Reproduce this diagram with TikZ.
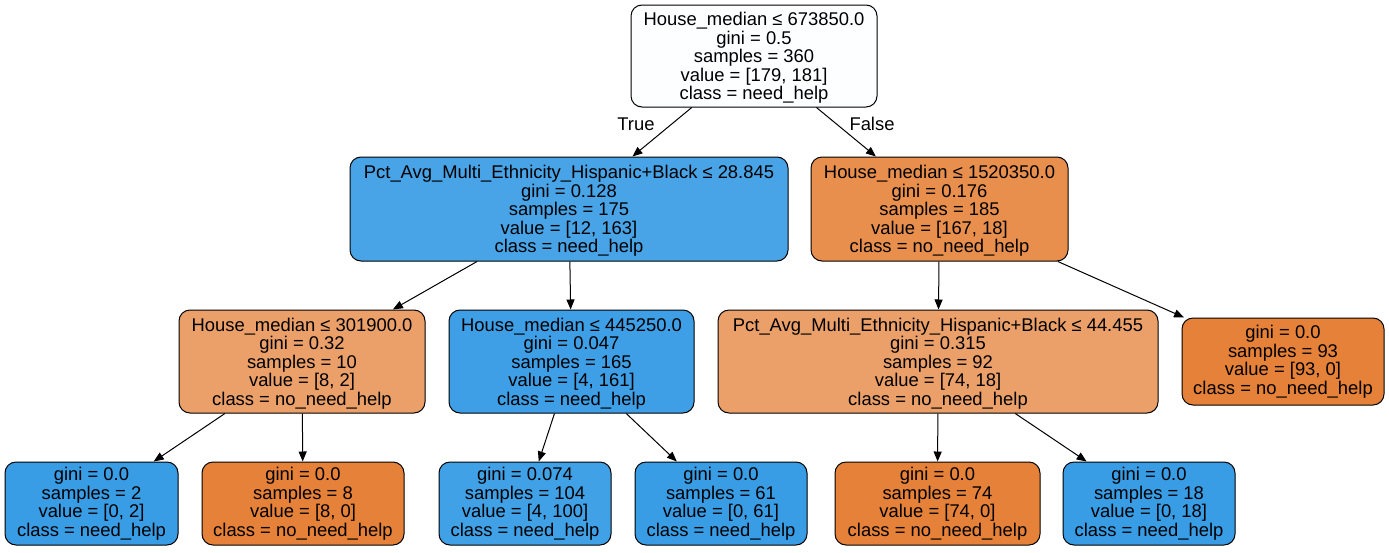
\documentclass[tikz,border=0pt]{standalone}
\usepackage{fontspec}
\setmainfont{Liberation Sans}
\usepackage{xcolor}
\usepackage{tikz}
\usetikzlibrary{arrows.meta, positioning}

\definecolor{rootcol}{RGB}{253,254,255}
\definecolor{bluefull}{RGB}{57,157,229}
\definecolor{orangefull}{RGB}{229,129,57}
\definecolor{bluelvla}{RGB}{72,164,231}
\definecolor{bluelvlb}{RGB}{62,159,230}
\definecolor{bluelvlc}{RGB}{65,161,230}
\definecolor{orangelvla}{RGB}{232,143,78}
\definecolor{orangelvlb}{RGB}{235,160,106}

\begin{document}
\begin{tikzpicture}[
    x=1pt, y=-1pt,
    treenode/.style={draw, line width=1pt, rounded corners=11pt, inner sep=0pt,
                     align=center, font=\fontsize{18.4pt}{18.5pt}\selectfont},
    leaf/.style={treenode, minimum height=83pt},
    split/.style={treenode, minimum height=103pt, text depth=0pt},
    arrowline/.style={-{Triangle[length=10pt, width=8pt]}, line width=1pt},
    lbl/.style={font=\fontsize{18.4pt}{18.5pt}\selectfont, inner sep=0pt}
  ]
    \useasboundingbox (0,0) rectangle (1389,552);
    % level 0
    \node[split, fill=rootcol, minimum width=246pt, minimum height=102pt] (root) at (754,56)
      {House\_median ≤ 673850.0\\gini = 0.5\\samples = 360\\value = [179, 181]\\class = need\_help};
    % level 1
    \node[split, fill=bluelvla, minimum width=438pt, minimum height=104pt] (l) at (569,209)
      {Pct\_Avg\_Multi\_Ethnicity\_Hispanic+Black ≤ 28.845\\gini = 0.128\\samples = 175\\value = [12, 163]\\class = need\_help};
    \node[split, fill=orangelvla, minimum width=257pt, minimum height=104pt] (r) at (939.5,209)
      {House\_median ≤ 1520350.0\\gini = 0.176\\samples = 185\\value = [167, 18]\\class = no\_need\_help};
    % level 2
    \node[split, fill=orangelvlb, minimum width=246pt] (ll) at (302,361.5)
      {House\_median ≤ 301900.0\\gini = 0.32\\samples = 10\\value = [8, 2]\\class = no\_need\_help};
    \node[split, fill=bluelvlb, minimum width=245pt] (lr) at (571.5,361.5)
      {House\_median ≤ 445250.0\\gini = 0.047\\samples = 165\\value = [4, 161]\\class = need\_help};
    \node[split, fill=orangelvlb, minimum width=440pt] (rl) at (938,361.5)
      {Pct\_Avg\_Multi\_Ethnicity\_Hispanic+Black ≤ 44.455\\gini = 0.315\\samples = 92\\value = [74, 18]\\class = no\_need\_help};
    \node[leaf, fill=orangefull, minimum width=202pt, minimum height=87pt] (rr) at (1283,361.5)
      {gini = 0.0\\samples = 93\\value = [93, 0]\\class = no\_need\_help};
    % level 3
    \node[leaf, fill=bluefull, minimum width=173pt] (lll) at (91.5,503.5)
      {gini = 0.0\\samples = 2\\value = [0, 2]\\class = need\_help};
    \node[leaf, fill=orangefull, minimum width=202pt] (llr) at (303,503.5)
      {gini = 0.0\\samples = 8\\value = [8, 0]\\class = no\_need\_help};
    \node[leaf, fill=bluelvlc, minimum width=172pt] (lrl) at (525,503.5)
      {gini = 0.074\\samples = 104\\value = [4, 100]\\class = need\_help};
    \node[leaf, fill=bluefull, minimum width=172pt] (lrr) at (721,503.5)
      {gini = 0.0\\samples = 61\\value = [0, 61]\\class = need\_help};
    \node[leaf, fill=orangefull, minimum width=205pt] (rll) at (937.5,503.5)
      {gini = 0.0\\samples = 74\\value = [74, 0]\\class = no\_need\_help};
    \node[leaf, fill=bluefull, minimum width=172pt] (rlr) at (1149,503.5)
      {gini = 0.0\\samples = 18\\value = [0, 18]\\class = need\_help};

    \node[lbl] (lbltrue) at (636,124) {True};
    \node[lbl] (lblfalse) at (872,124) {False};

    \draw[arrowline] (root) -- (l);
    \draw[arrowline] (root) -- (r);
    \draw[arrowline] (l) -- (ll);
    \draw[arrowline] (l) -- (lr);
    \draw[arrowline] (r) -- (rl);
    \draw[arrowline] (r) -- (rr);
    \draw[arrowline] (ll) -- (lll);
    \draw[arrowline] (ll) -- (llr);
    \draw[arrowline] (lr) -- (lrl);
    \draw[arrowline] (lr) -- (lrr);
    \draw[arrowline] (rl) -- (rll);
    \draw[arrowline] (rl) -- (rlr);
  \end{tikzpicture}
\end{document}
